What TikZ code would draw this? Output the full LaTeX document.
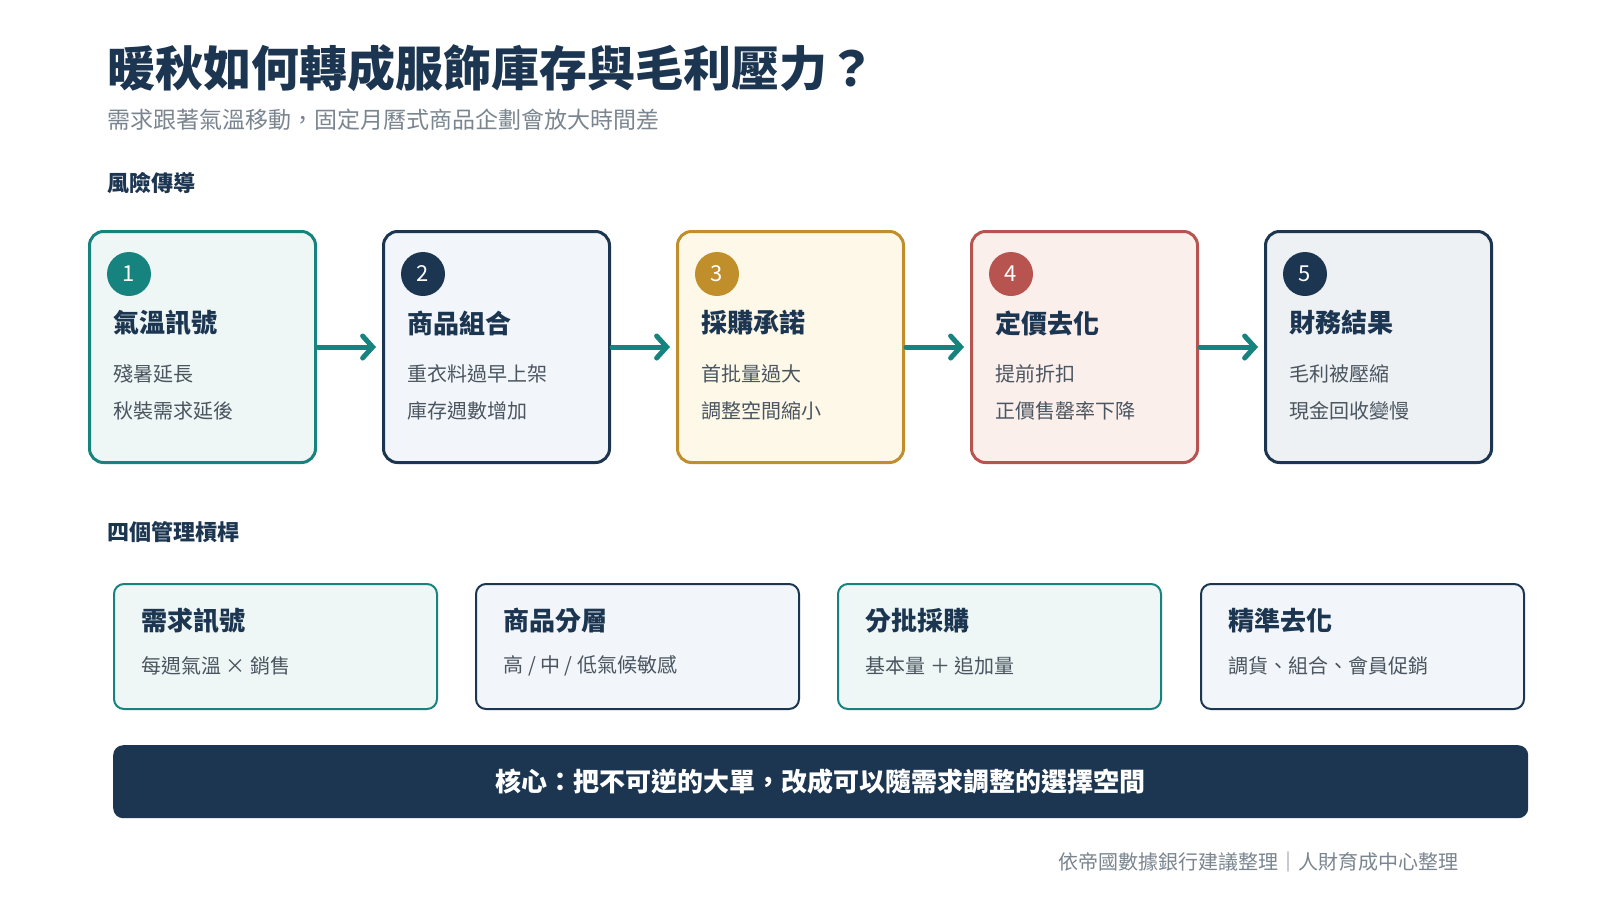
\documentclass[tikz,border=0pt]{standalone}
\usepackage{fontspec}
\usetikzlibrary{arrows.meta}
\setmainfont{Noto Sans CJK TC}
\begin{document}
\begin{tikzpicture}[x=1pt,y=-1pt,
 flow/.style={draw, line width=3pt, rounded corners=14pt, minimum width=226pt, minimum height=231pt, anchor=north west},
 lever/.style={draw, line width=2pt, rounded corners=10pt, minimum width=323pt, minimum height=125pt, anchor=north west},
 num/.style={circle, minimum size=44pt, inner sep=0pt, text=white, font=\fontsize{22}{24}\selectfont},
 btitle/.style={anchor=west, font=\fontsize{26}{30}\selectfont\bfseries, text=navy},
 bline/.style={anchor=west, font=\fontsize{20}{24}\selectfont, text=txt},
 arr/.style={draw=teal1, line width=5pt, line cap=round, -{Straight Barb[length=10pt,width=22pt,line cap=round]}},
 sect/.style={anchor=west, font=\fontsize{22}{26}\selectfont\bfseries, text=navy}]
\definecolor{navy}{HTML}{1C3550}
\definecolor{teal1}{HTML}{17837F}
\definecolor{gold}{HTML}{C08F2C}
\definecolor{redc}{HTML}{B85450}
\definecolor{txt}{HTML}{4A5560}
\definecolor{gray1}{HTML}{7A8590}
\definecolor{fteal}{HTML}{EEF7F5}
\definecolor{fblue}{HTML}{F2F6FA}
\definecolor{fgold}{HTML}{FDF8E8}
\definecolor{fred}{HTML}{FBEFEC}
\definecolor{fgray}{HTML}{EEF1F4}
\fill[white] (0,0) rectangle (1600,900);
\node[anchor=west, font=\fontsize{48}{54}\selectfont\bfseries, text=navy] (title) at (104,68) {暖秋如何轉成服飾庫存與毛利壓力？};
\node[anchor=west, font=\fontsize{23}{27}\selectfont, text=gray1] (sub) at (104,120) {需求跟著氣溫移動，固定月曆式商品企劃會放大時間差};
\node[sect] (s1) at (104,183) {風險傳導};
\node[sect] (s2) at (104,532) {四個管理槓桿};
\foreach \i/\x/\c/\f/\t/\a/\b in {1/88/teal1/fteal/氣溫訊號/殘暑延長/秋裝需求延後,
 2/382/navy/fblue/商品組合/重衣料過早上架/庫存週數增加,
 3/676/gold/fgold/採購承諾/首批量過大/調整空間縮小,
 4/970/redc/fred/定價去化/提前折扣/正價售罄率下降,
 5/1264/navy/fgray/財務結果/毛利被壓縮/現金回收變慢}{
 \node[flow, draw=\c, fill=\f] (b\i) at (\x,230) {};
 \node[num, fill=\c] (n\i) at (\x+41,274) {\i};
 \node[btitle] (t\i) at (\x+22,323) {\t};
 \node[bline] (l\i a) at (\x+22,374) {\a};
 \node[bline] (l\i b) at (\x+22,411) {\b};
}
\foreach \i/\j in {1/2,2/3,3/4,4/5}{
 \draw[arr] ([xshift=1pt]b\i.east) -- ([xshift=-6pt]b\j.west);
}
\foreach \i/\x/\c/\f/\t/\a in {1/113/teal1/fteal/需求訊號/{每週氣溫 × 銷售},
 2/475/navy/fblue/商品分層/{高 / 中 / 低氣候敏感},
 3/837/teal1/fteal/分批採購/{基本量 ＋ 追加量},
 4/1200/navy/fblue/精準去化/{調貨、組合、會員促銷}}{
 \node[lever, draw=\c, fill=\f] (v\i) at (\x,583) {};
 \node[btitle] (vt\i) at (\x+25,621) {\t};
 \node[bline] (va\i) at (\x+25,666) {\a};
}
\node[fill=navy, rounded corners=10pt, minimum width=1415pt, minimum height=73pt, anchor=north west] (ban) at (113,745) {};
\node[text=white, font=\fontsize{26}{30}\selectfont\bfseries] (bt) at (ban.center) {核心：把不可逆的大單，改成可以隨需求調整的選擇空間};
\node[anchor=east, font=\fontsize{20}{24}\selectfont, text=gray1] (foot) at (1462,862) {依帝國數據銀行建議整理｜人財育成中心整理};
\pgfresetboundingbox
\useasboundingbox (0,0) rectangle (1600,900);
\end{tikzpicture}
\end{document}
